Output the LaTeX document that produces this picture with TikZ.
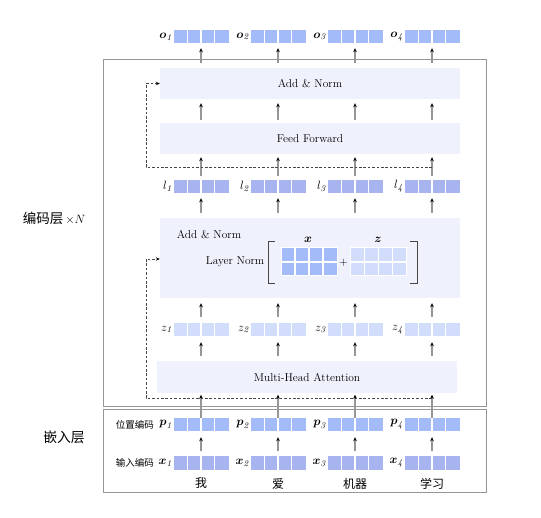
\documentclass[tikz,border=0pt]{standalone}
\usepackage{amsmath}
\usepackage{fontspec}
\newfontfamily\cjk{Noto Sans CJK SC}
\usetikzlibrary{arrows.meta,calc}
\definecolor{vblue}{RGB}{163,188,249}
\definecolor{vpurp}{RGB}{168,180,240}
\definecolor{vlight}{RGB}{210,220,251}
\definecolor{boxfill}{RGB}{239,241,253}
\definecolor{framec}{RGB}{150,150,150}
\definecolor{arrgray}{RGB}{150,150,150}
\definecolor{dashc}{RGB}{70,70,70}
\tikzset{
  vec/.style={minimum width=55pt, minimum height=13pt, inner sep=0pt, fill=#1,
    path picture={\foreach \k in {1,2,3}{\draw[white,line width=1.1pt]
      ($(path picture bounding box.south west)!\k/4!(path picture bounding box.south east)$) --
      ($(path picture bounding box.north west)!\k/4!(path picture bounding box.north east)$);}}},
  mat/.style={minimum width=56pt, minimum height=28pt, inner sep=0pt, fill=#1, draw=white, line width=1pt,
    path picture={\foreach \k in {1,2,3}{\draw[white,line width=1.1pt]
      ($(path picture bounding box.south west)!\k/4!(path picture bounding box.south east)$) --
      ($(path picture bounding box.north west)!\k/4!(path picture bounding box.north east)$);}
      \draw[white,line width=1.1pt] (path picture bounding box.west) -- (path picture bounding box.east);}},
  blk/.style={fill=boxfill, inner sep=0pt, minimum width=300pt, minimum height=#1},
  lab/.style={anchor=east, inner sep=0pt, xshift=-1.5pt, font=\fontsize{12.5}{14}\selectfont},
  arr/.style={draw=arrgray, line width=1.3pt, shorten <=4pt, shorten >=4pt,
    -{Stealth[length=4pt,width=3.6pt,black]}},
  dsh/.style={draw=dashc, line width=0.7pt, dash pattern=on 2.6pt off 1.8pt,
    -{Stealth[length=4pt,width=3.4pt,black]}},
  txt/.style={font=\fontsize{11.4}{13}\selectfont, inner sep=0pt},
  ctxt/.style={font=\cjk\fontsize{#1}{#1}\selectfont, inner sep=0pt},
}
\begin{document}
\begin{tikzpicture}[x=1pt,y=-1pt]
\useasboundingbox (0,0) rectangle (541,518);
% frames
\node[draw=framec, line width=0.8pt, minimum width=383pt, minimum height=347pt, inner sep=0pt] (enc) at (294.5,232.5) {};
\node[draw=framec, line width=0.8pt, minimum width=383pt, minimum height=83pt, inner sep=0pt] (emb) at (294.5,450.5) {};
% blocks
\node[blk=31pt] (AN1) at (310,83.5) {};
\node[txt] at (AN1) {Add \& Norm};
\node[blk=31pt] (FF) at (310,138.5) {};
\node[txt] at (FF) {Feed Forward};
\node[blk=80pt] (AN2) at (310,258) {};
\node[txt] (an2t) at (209,235) {Add \& Norm};
\node[txt, anchor=east] (lnt) at (264.5,262) {Layer Norm};
\node[blk=32pt] (MHA) at (307,377) {};
\node[txt] at (MHA) {Multi-Head Attention};
% layer norm content
\node[mat=vblue] (mx) at (309,262) {};
\node[mat=vlight] (mz) at (378.5,262) {};
\node[txt] (plus) at (343.5,263) {$+$};
\node[txt, font=\fontsize{12}{14}\selectfont] at (308,239.5) {$\boldsymbol{x}$};
\node[txt, font=\fontsize{12}{14}\selectfont] at (378,239.5) {$\boldsymbol{z}$};
\draw[dashc, line width=0.9pt] (275,241) -- (268,241) -- (268,283) -- (275,283);
\draw[dashc, line width=0.9pt] (410,241) -- (417,241) -- (417,283) -- (410,283);
% columns
\foreach \i/\cx in {1/201,2/278,3/355,4/432}{
  \node[vec=vblue] (o\i) at (\cx,36.5) {};
  \node[lab] at (o\i.west) {$\boldsymbol{o}_{\mathit{\i}}$};
  \node[vec=vpurp] (l\i) at (\cx,186.5) {};
  \node[lab] at (l\i.west) {$l_{\mathit{\i}}$};
  \node[vec=vlight] (z\i) at (\cx,329.5) {};
  \node[lab] at (z\i.west) {$z_{\mathit{\i}}$};
  \node[vec=vblue] (p\i) at (\cx,424.5) {};
  \node[lab] at (p\i.west) {$\boldsymbol{p}_{\mathit{\i}}$};
  \node[vec=vpurp] (x\i) at (\cx,463) {};
  \node[lab] at (x\i.west) {$\boldsymbol{x}_{\mathit{\i}}$};
  \draw[arr, shorten <=5pt, shorten >=5pt] (o\i.south |- AN1.north) -- (o\i.south);
  \draw[arr, shorten <=3pt] (o\i.south |- FF.north) -- (o\i.south |- AN1.south);
  \draw[arr, shorten >=3pt] (l\i.north) -- (l\i.north |- FF.south);
  \draw[arr, shorten <=5pt, shorten >=5pt] (l\i.south |- AN2.north) -- (l\i.south);
  \draw[arr, shorten <=6pt, shorten >=5pt] (z\i.north) -- (z\i.north |- AN2.south);
  \draw[arr, shorten <=5pt, shorten >=6pt] (z\i.south |- MHA.north) -- (z\i.south);
  \draw[arr, shorten <=0pt, shorten >=1.5pt] (p\i.north) -- (p\i.north |- MHA.south);
  \draw[arr, shorten <=5pt, shorten >=6pt] (x\i.north) -- (x\i.south |- p\i.south);
}
% residual dashed connectors
\coordinate (d1) at (432,167);
\coordinate (d1l) at (146,83.5);
\draw[dsh] (d1) -| (d1l) -- (AN1.west);
\coordinate (d2) at (432,398);
\coordinate (d2l) at (146,259);
\draw[dsh] (d2) -| (d2l) -- (d2l -| AN2.west);
% left labels
\node[inner sep=0pt] (encl) at (54,218) {\cjk\fontsize{13.5}{14}\selectfont 编码层\normalfont\fontsize{12.5}{14}\selectfont$\,\times N$};
\node[ctxt=13.8] (embl) at (64,437) {嵌入层};
\node[ctxt=9.5, anchor=east] at (154,424.5) {位置编码};
\node[ctxt=9.5, anchor=east] at (154,463) {输入编码};
% words
\node[ctxt=12] (w1) at (201,483.5) {我};
\node[ctxt=12] (w2) at (278,483.5) {爱};
\node[ctxt=12] (w3) at (355,483.5) {机器};
\node[ctxt=12] (w4) at (432,483.5) {学习};
\end{tikzpicture}
\end{document}
